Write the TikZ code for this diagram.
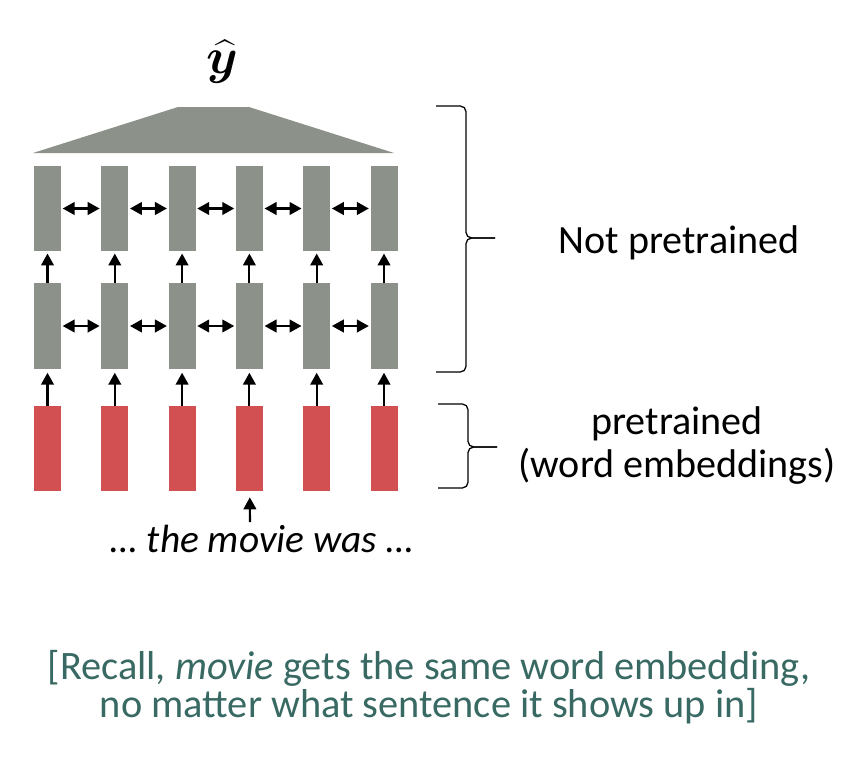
\documentclass[tikz,border=0pt]{standalone}
\usepackage{fix-cm}
\usepackage{amsmath}
\usepackage{fontspec}
\setmainfont{Carlito}
\usetikzlibrary{arrows.meta}
\definecolor{cellgray}{RGB}{140,145,137}
\definecolor{embred}{RGB}{211,80,82}
\definecolor{notegreen}{RGB}{56,105,98}
\begin{document}
\begin{tikzpicture}[x=0.025cm, y=-0.025cm, >={Triangle[length=8.5pt,width=9pt]},
    cell/.style={rectangle, fill=cellgray, inner sep=0pt, minimum width=0.675cm, minimum height=2.125cm},
    emb/.style={cell, fill=embred},
    link/.style={line width=1.5pt},
    brace/.style={line width=0.9pt, rounded corners=4pt}]
    \useasboundingbox (0,0) rectangle (856,757);
    \fill[cellgray] (33,153) -- (178,107) -- (249,107) -- (394,153) -- cycle;
    \node (yhat) at (222,62) {\fontsize{36}{40}\selectfont$\boldsymbol{\widehat{y}}$};
    \foreach \i in {1,...,6} {
        \node[emb] (r\i) at ({47.5+67.3*(\i-1)},448.5) {};
        \node[cell] (m\i) at ({47.5+67.3*(\i-1)},326) {};
        \node[cell] (t\i) at ({47.5+67.3*(\i-1)},208.5) {};
        \draw[->, link, shorten >=2.8pt] (r\i) -- (m\i);
        \draw[->, link, shorten >=1.6pt] (m\i) -- (t\i);
    }
    \foreach \i/\j in {1/2,2/3,3/4,4/5,5/6} {
        \draw[<->, link, shorten >=1pt, shorten <=1pt] (t\i) -- (t\j);
        \draw[<->, link, shorten >=1pt, shorten <=1pt] (m\i) -- (m\j);
    }
    \coordinate (src) at (250,522);
    \draw[->, link, shorten >=4.3pt] (src) -- (r4);
    \node[anchor=base, font=\fontsize{28}{32}\selectfont\itshape] (words) at (262,552) {\dots{} the movie was \dots};
    \draw[brace] (436,106) -- (466,106) -- (466,238) -- (495,238);
    \draw[brace] (436,372) -- (466,372) -- (466,238) -- (495,238);
    \draw[brace] (438,404) -- (468,404) -- (468,447) -- (497,447);
    \draw[brace] (438,488) -- (468,488) -- (468,447) -- (497,447);
    \node[anchor=base, font=\fontsize{28.5}{32}\selectfont] (notpre) at (679,253) {Not pretrained};
    \node[align=center, font=\fontsize{28.5}{30.6}\selectfont] (pre) at (677,446) {pretrained\\(word embeddings)};
    \node[align=center, text=notegreen, font=\fontsize{28.7}{27.2}\selectfont] (note) at (429,687) {[Recall, \textit{movie} gets the same word embedding,\\no matter what sentence it shows up in]};
\end{tikzpicture}
\end{document}
